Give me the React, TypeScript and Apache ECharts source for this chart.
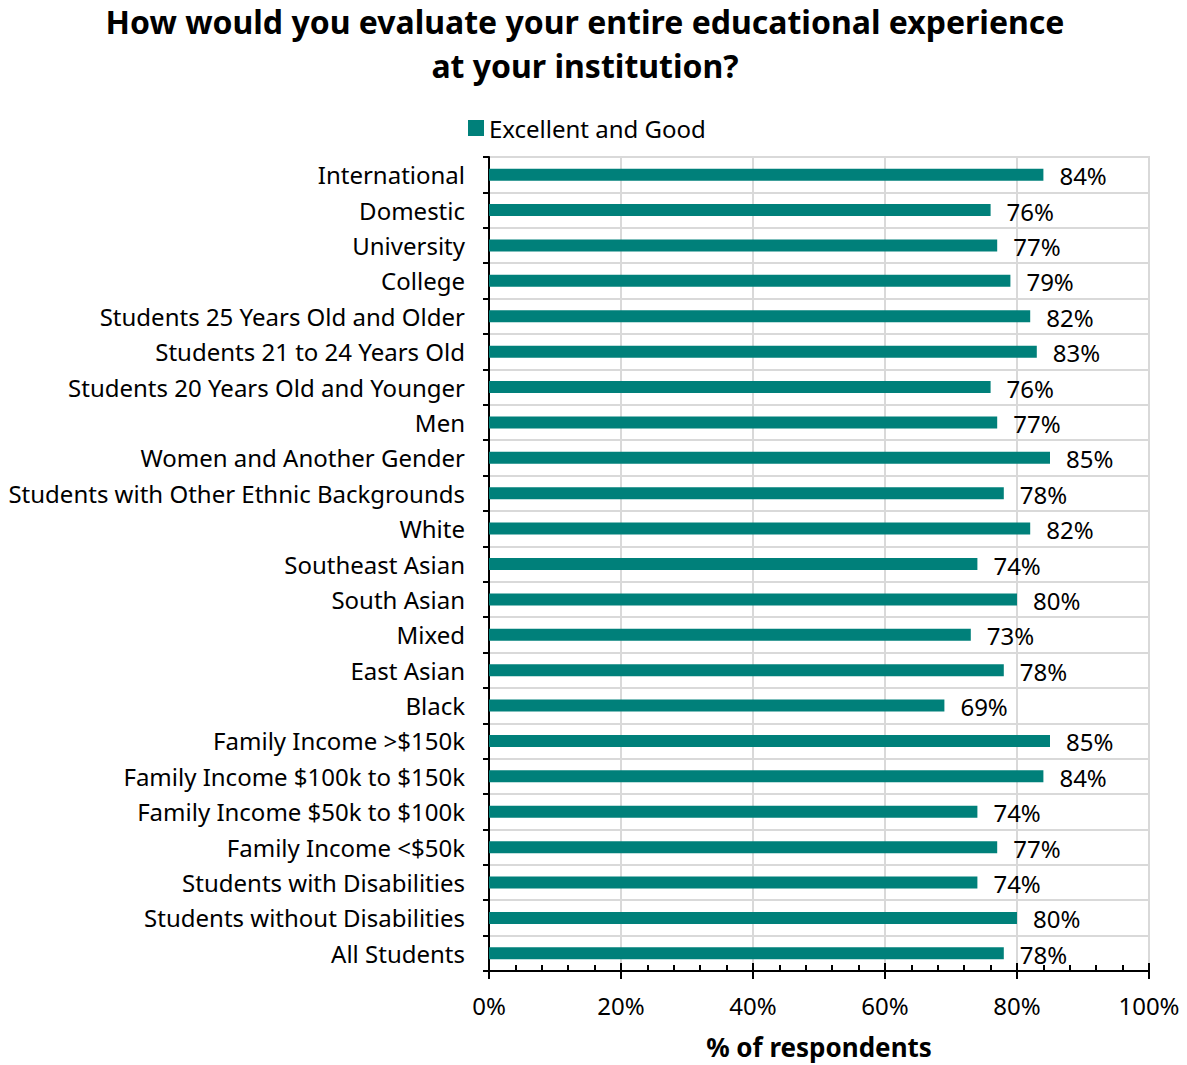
import React, { useEffect, useRef } from "react";
import * as echarts from "echarts";

const categories = [
  "International",
  "Domestic",
  "University",
  "College",
  "Students 25 Years Old and Older",
  "Students 21 to 24 Years Old",
  "Students 20 Years Old and Younger",
  "Men",
  "Women and Another Gender",
  "Students with Other Ethnic Backgrounds",
  "White",
  "Southeast Asian",
  "South Asian",
  "Mixed",
  "East Asian",
  "Black",
  "Family Income >$150k",
  "Family Income $100k to $150k",
  "Family Income $50k to $100k",
  "Family Income <$50k",
  "Students with Disabilities",
  "Students without Disabilities",
  "All Students",
];

const values = [84, 76, 77, 79, 82, 83, 76, 77, 85, 78, 82, 74, 80, 73, 78, 69, 85, 84, 74, 77, 74, 80, 78];

const seriesName = "Excellent and Good";
const titleText = "How would you evaluate your entire educational experience\nat your institution?";
const xAxisName = "% of respondents";

export default function App() {
  const ref = useRef<HTMLDivElement>(null);
  useEffect(() => {
    if (!ref.current) return;
    const chart = echarts.init(ref.current, undefined, { renderer: "svg" });
    const font = "'Noto Sans', 'Open Sans', sans-serif";
    const cats = [...categories].reverse();
    const vals = [...values].reverse();
    chart.setOption({
      animation: false,
      textStyle: { fontFamily: font },
      title: {
        text: titleText,
        left: 580,
        top: -6,
        textAlign: "center",
        textStyle: { fontFamily: font, fontSize: 32, fontWeight: "bold", color: "#000", lineHeight: 44 },
      },
      legend: {
        data: [seriesName],
        left: 463,
        top: 111,
        itemWidth: 16,
        itemHeight: 16,
        itemGap: 5,
        icon: "rect",
        textStyle: { fontFamily: font, fontSize: 24, color: "#000" },
      },
      grid: {
        left: 489,
        right: 38,
        top: 157,
        bottom: 94,
        outerBoundsMode: "none",
        containLabel: false,
        show: true,
        borderColor: "#d9d9d9",
        borderWidth: 2,
      },
      xAxis: [
        {
          type: "value",
          min: 0,
          max: 100,
          interval: 20,
          name: xAxisName,
          nameLocation: "middle",
          nameGap: 63,
          nameTextStyle: { fontFamily: font, fontSize: 26, fontWeight: "bold", color: "#000" },
          axisLine: { show: true, lineStyle: { color: "#000", width: 2 } },
          axisTick: { show: true, inside: true, length: 8, lineStyle: { color: "#000", width: 2 } },
          minorTick: { show: true, splitNumber: 5, length: 6, lineStyle: { color: "#000", width: 2 } },
          axisLabel: {
            formatter: "{value}%",
            fontFamily: font,
            fontSize: 24,
            color: "#000",
            margin: 22,
          },
          splitLine: { show: true, lineStyle: { color: "#d9d9d9", width: 2 } },
        },
        {
          type: "value",
          position: "bottom",
          min: 0,
          max: 100,
          interval: 20,
          axisLine: { show: false },
          axisTick: { show: true, inside: false, length: 8, lineStyle: { color: "#000", width: 2 } },
          axisLabel: { show: false },
          splitLine: { show: false },
        },
      ],
      yAxis: {
        type: "category",
        data: cats,
        axisLine: { show: true, lineStyle: { color: "#000", width: 2 } },
        axisTick: { show: true, length: 6, lineStyle: { color: "#000", width: 2 } },
        axisLabel: { fontFamily: font, fontSize: 24, color: "#000", margin: 24 },
        splitLine: { show: true, lineStyle: { color: "#d9d9d9", width: 2 } },
      },
      series: [
        {
          name: seriesName,
          type: "bar",
          data: vals,
          barWidth: 12,
          itemStyle: { color: "#00807a" },
          label: {
            show: true,
            position: "right",
            distance: 16,
            formatter: "{c}%",
            fontFamily: font,
            fontSize: 24,
            color: "#000",
            offset: [0, 1],
          },
        },
      ],
    });
    return () => chart.dispose();
  }, []);
  return (
    <div
      ref={ref}
      style={{ position: "fixed", left: 0, top: 0, width: 1187, height: 1065, background: "#fff" }}
    />
  );
}
